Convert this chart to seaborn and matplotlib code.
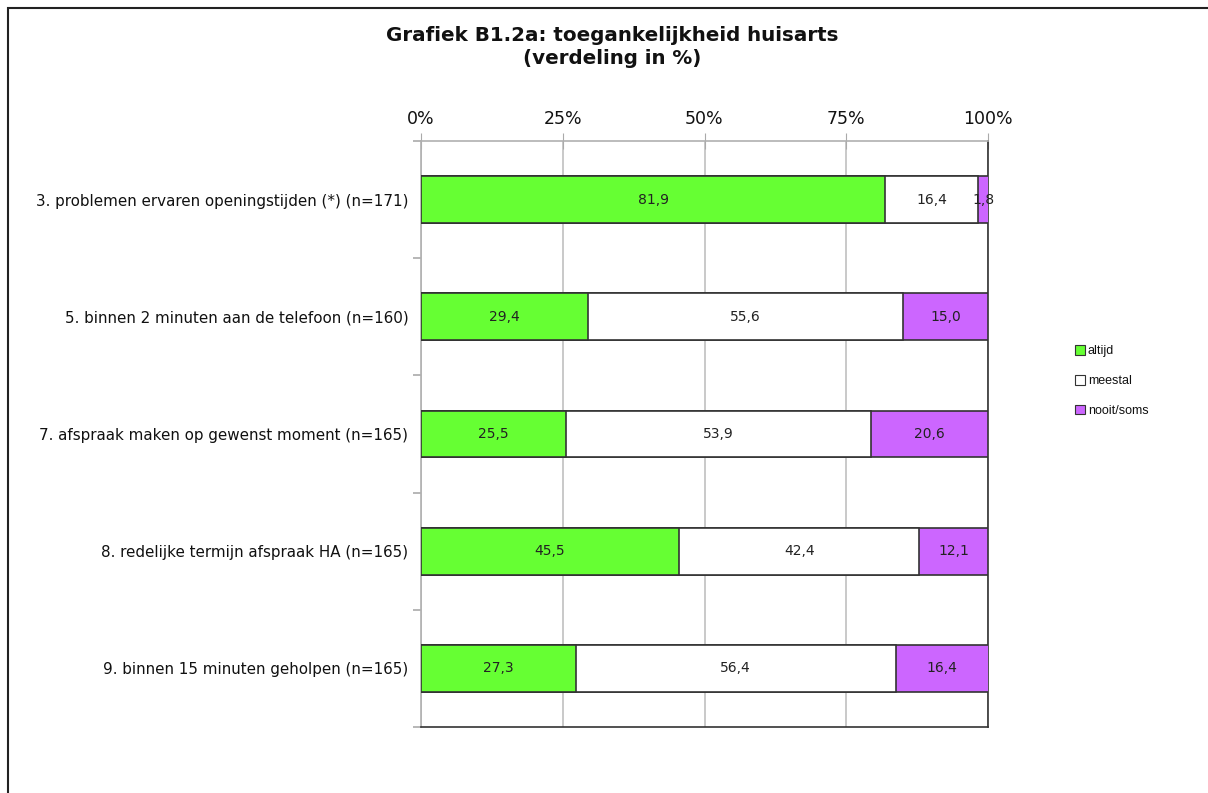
import numpy as np
import pandas as pd
import seaborn as sns
import matplotlib.pyplot as plt
from matplotlib.patches import Rectangle, Patch

# data
categories = ['3. problemen ervaren openingstijden (*) (n=171)',
              '5. binnen 2 minuten aan de telefoon (n=160)',
              '7. afspraak maken op gewenst moment (n=165)',
              '8. redelijke termijn afspraak HA (n=165)',
              '9. binnen 15 minuten geholpen (n=165)']
altijd = [81.9, 29.4, 25.5, 45.5, 27.3]
meestal = [16.4, 55.6, 53.9, 42.4, 56.4]
nooit = [1.8, 15.0, 20.6, 12.1, 16.4]
series = ['altijd', 'meestal', 'nooit/soms']
colors = ['#66ff33', '#ffffff', '#cc66ff']
xticks = [0, 25, 50, 75, 100]

df = pd.DataFrame({'cat': categories, 'altijd': altijd, 'meestal': meestal, 'nooit/soms': nooit})
df['c1'] = df['altijd']
df['c2'] = df['altijd'] + df['meestal']
df['c3'] = df['c2'] + df['nooit/soms']

sns.set_style('white')
plt.rcParams['font.family'] = ['DejaVu Sans']
plt.rcParams['text.color'] = '#111111'
plt.rcParams['xtick.color'] = '#111111'
plt.rcParams['ytick.color'] = '#111111'

fig = plt.figure(figsize=(12.08, 7.93), dpi=100)
ax = fig.add_axes([421 / 1208, 1 - 727 / 793, 567 / 1208, 586 / 793])

# stacked bars: draw cumulative totals back to front
for col, c in zip(['c3', 'c2', 'c1'], colors[::-1]):
    sns.barplot(data=df, x=col, y='cat', orient='h', color=c, width=0.4,
                edgecolor='#333333', linewidth=1.2, saturation=1, ax=ax, zorder=3)

# value labels in segment centres
for i, row in df.iterrows():
    starts = [0, row['c1'], row['c2']]
    for s, name in zip(starts, series):
        v = row[name]
        ax.text(s + v / 2, i, f'{v:.1f}'.replace('.', ','), ha='center', va='center',
                fontsize=10, color='#222222', zorder=5)

ax.set_xlim(0, 100)
ax.set_ylim(len(categories) - 0.5, -0.5)
ax.set_xlabel('')
ax.set_ylabel('')
ax.xaxis.tick_top()
ax.set_xticks(xticks)
ax.set_xticklabels([f'{t}%' for t in xticks], fontsize=12.5)
ax.tick_params(axis='x', direction='inout', length=12, color='#aaaaaa', pad=3)
ax.grid(axis='x', color='#c0c0c0', linewidth=1.2, zorder=0)
ax.set_axisbelow(True)

ax.set_yticks(range(len(categories)))
ax.set_yticklabels(categories, fontsize=10.9)
ax.tick_params(axis='y', length=0, pad=9)
ax.set_yticks(np.arange(-0.5, len(categories)), minor=True)
ax.tick_params(axis='y', which='minor', left=True, length=6, width=1.2, color='#aaaaaa')

for s in ['top', 'left']:
    ax.spines[s].set_color('#b0b0b0')
    ax.spines[s].set_linewidth(1.2)
for s in ['right', 'bottom']:
    ax.spines[s].set_color('#333333')
    ax.spines[s].set_linewidth(1.2)
    ax.spines[s].set_visible(True)

fig.text(612 / 1208, 1 - 47 / 793, 'Grafiek B1.2a: toegankelijkheid huisarts\n(verdeling in %)',
         ha='center', va='center', fontsize=14.3, fontweight='bold', linespacing=1.3)

handles = [Patch(facecolor=c, edgecolor='#333333', linewidth=0.8) for c in colors]
fig.legend(handles, series, loc='center left', bbox_to_anchor=(1064 / 1208, 1 - 381 / 793),
           frameon=False, handlelength=0.8, handleheight=0.8, handletextpad=0.2,
           labelspacing=1.4, prop={'family': 'Liberation Sans', 'size': 9})

# outer chart border
fig.patches.append(Rectangle((8 / 1208, -0.1), 1.2, 1 - 8 / 793 + 0.1, transform=fig.transFigure,
                             fill=False, edgecolor='#222222', linewidth=1.5))

fig.savefig('out.png', dpi=100)
